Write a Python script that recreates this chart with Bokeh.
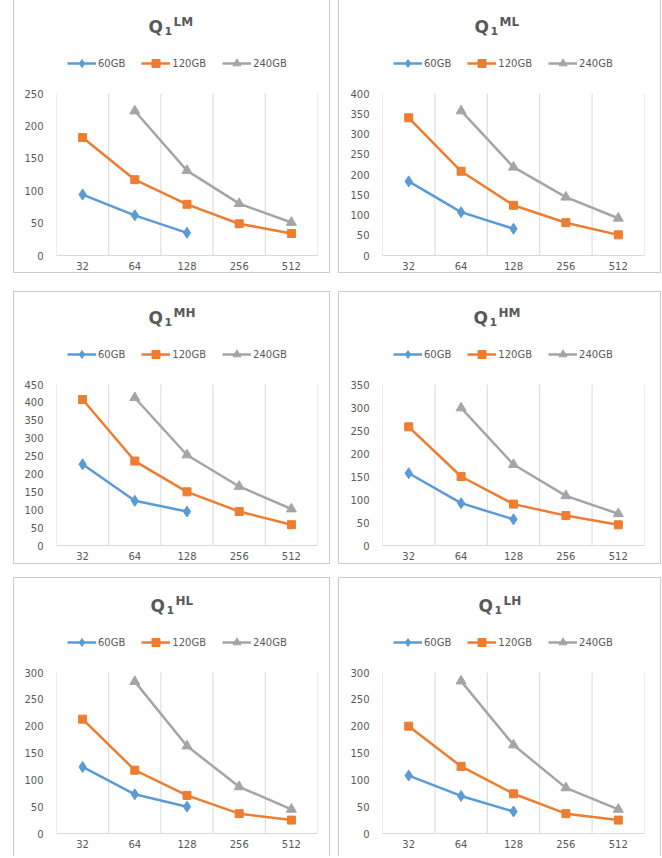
from bokeh.plotting import figure
from bokeh.models import FactorRange, Range1d, FixedTicker, Label, Legend, LegendItem, Spacer
from bokeh.layouts import column, row
from bokeh.embed import file_html
from bokeh.resources import INLINE

nan = float("nan")

sizes = ["32", "64", "128", "256", "512"]
series_names = ["60GB", "120GB", "240GB"]

# Q1^LM
lm_60 = [94, 62, 35, nan, nan]
lm_120 = [182, 117, 79, 49, 34]
lm_240 = [nan, 223, 131, 80, 51]
# Q1^ML
ml_60 = [183, 107, 66, nan, nan]
ml_120 = [340, 208, 124, 81, 51]
ml_240 = [nan, 357, 218, 144, 92]
# Q1^MH
mh_60 = [227, 125, 95, nan, nan]
mh_120 = [408, 236, 150, 95, 58]
mh_240 = [nan, 413, 253, 165, 102]
# Q1^HM
hm_60 = [157, 92, 57, nan, nan]
hm_120 = [258, 150, 90, 65, 45]
hm_240 = [nan, 299, 176, 108, 69]
# Q1^HL
hl_60 = [124, 73, 50, nan, nan]
hl_120 = [213, 118, 71, 37, 25]
hl_240 = [nan, 283, 163, 87, 45]
# Q1^LH
lh_60 = [108, 70, 41, nan, nan]
lh_120 = [200, 125, 74, 37, 25]
lh_240 = [nan, 284, 165, 85, 45]

panel_sups = ["LM", "ML", "MH", "HM", "HL", "LH"]
panel_ymax = [250, 400, 450, 350, 300, 300]
panel_data = [
    (lm_60, lm_120, lm_240),
    (ml_60, ml_120, ml_240),
    (mh_60, mh_120, mh_240),
    (hm_60, hm_120, hm_240),
    (hl_60, hl_120, hl_240),
    (lh_60, lh_120, lh_240),
]

colors = ["#5B9BD5", "#ED7D31", "#A5A5A5"]
markers = ["diamond", "square", "triangle"]
msizes = [11, 8, 10]
TXT = "#595959"
GRID = "#d9d9d9"
FONT = "DejaVu Sans"
BORDER = "1px solid #cccccc"
title_dx = [92, 92, 92, 91, 94, 96]
boundaries = [0, 1, 2, 3, 4, 5]


def make_panel(idx, width, height, mb_left, mb_right, top_gap, plot_px, borders):
    sup = panel_sups[idx]
    ymax = panel_ymax[idx]
    frame_h = top_gap + plot_px
    mb_bottom = height - frame_h
    yend = ymax * frame_h / plot_px
    p = figure(width=width, height=height, output_backend="svg", toolbar_location=None,
               x_range=FactorRange(factors=sizes), y_range=Range1d(0, yend),
               min_border_left=mb_left, min_border_right=mb_right,
               min_border_top=0, min_border_bottom=mb_bottom,
               background_fill_color="white", border_fill_color="white")
    p.outline_line_color = None
    p.title.visible = False
    p.grid.visible = False

    # vertical separators between categories (category boundaries)
    p.segment(x0=boundaries, y0=[0] * 6, x1=boundaries, y1=[ymax] * 6,
              line_color=GRID, line_width=1)

    p.yaxis.ticker = FixedTicker(ticks=list(range(0, ymax + 1, 50)))
    p.yaxis.axis_line_color = None
    p.yaxis.major_tick_line_color = None
    p.yaxis.minor_tick_line_color = None
    p.yaxis.major_tick_out = 0
    p.yaxis.major_tick_in = 0
    p.yaxis.major_label_standoff = 13
    p.yaxis.major_label_text_font_size = "10px"
    p.yaxis.major_label_text_color = TXT
    p.yaxis.major_label_text_font = FONT

    p.xaxis.axis_line_color = GRID
    p.xaxis.major_tick_line_color = None
    p.xaxis.minor_tick_line_color = None
    p.xaxis.major_tick_out = 0
    p.xaxis.major_tick_in = 0
    p.xaxis.major_label_standoff = 6
    p.xaxis.major_label_text_font_size = "10px"
    p.xaxis.major_label_text_color = TXT
    p.xaxis.major_label_text_font = FONT

    items = []
    for k, ys in enumerate(panel_data[idx]):
        lr = p.line(sizes, ys, line_color=colors[k], line_width=2.5)
        sr = p.scatter(sizes, ys, marker=markers[k], size=msizes[k],
                       fill_color=colors[k], line_color=colors[k])
        items.append(LegendItem(label=series_names[k], renderers=[lr, sr]))

    legend = Legend(items=items, orientation="horizontal",
                    location=(11, plot_px + 20),
                    border_line_color=None, background_fill_alpha=0, padding=0, margin=0,
                    spacing=16, glyph_width=29, glyph_height=20, label_height=20,
                    label_standoff=2, label_text_font_size="10px", label_text_color=TXT,
                    label_text_font=FONT, label_text_baseline="middle")
    p.add_layout(legend, "center")

    qx = title_dx[idx]
    base = plot_px + 67
    p.add_layout(Label(x=qx, y=base, x_units="screen", y_units="screen", text="Q",
                       text_font=FONT, text_font_size="17px", text_font_style="bold",
                       text_color=TXT, text_baseline="alphabetic"))
    p.add_layout(Label(x=qx + 16, y=base - 4, x_units="screen", y_units="screen", text="1",
                       text_font=FONT, text_font_size="11px", text_font_style="bold",
                       text_color=TXT, text_baseline="alphabetic"))
    p.add_layout(Label(x=qx + 25, y=base + 5, x_units="screen", y_units="screen", text=sup,
                       text_font=FONT, text_font_size="12px", text_font_style="bold",
                       text_color=TXT, text_baseline="alphabetic"))

    st = {}
    for side in ["left", "right", "top", "bottom"]:
        st["border-" + side] = BORDER if side in borders else "none"
    p.styles = st
    return p


# (height, gap from panel top to top tick, pixels from top tick to zero, borders)
row_specs = [
    (273, 93, 162, ["left", "right", "bottom"]),
    (273, 92, 161, ["left", "right", "top", "bottom"]),
    (279, 94, 161, ["left", "right", "top"]),
]

rows = []
for r, (h, tg, pp, borders) in enumerate(row_specs):
    left = make_panel(2 * r, 317, h, 42, 14, tg, pp, borders)
    right = make_panel(2 * r + 1, 323, h, 43, 18, tg, pp, borders)
    rows.append(row(Spacer(width=13, height=h), left, Spacer(width=8, height=h), right))

layout = column(rows[0], Spacer(width=10, height=18), rows[1], Spacer(width=10, height=13), rows[2])

open("out.html", "w").write(file_html(layout, INLINE))
